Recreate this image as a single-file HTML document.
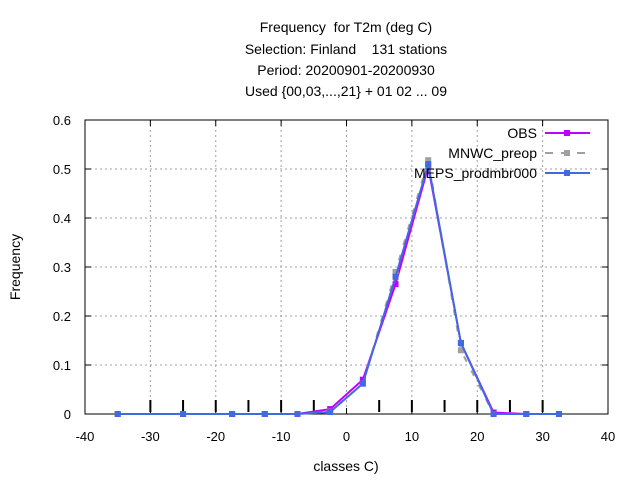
<!DOCTYPE html>
<html><head><meta charset="utf-8"><style>
body{margin:0;background:#fff;}
svg{font-family:"Liberation Sans",sans-serif;}
#title text{white-space:pre;}
</style></head><body>
<svg id="chart" width="640" height="480" xml:space="preserve">
<g id="title" font-size="14" text-anchor="middle" fill="#000"><text x="346" y="32">Frequency  for T2m (deg C)</text><text x="346" y="54">Selection: Finland    131 stations</text><text x="346" y="75">Period: 20200901-20200930</text><text x="346" y="96">Used {00,03,...,21} + 01 02 ... 09</text></g>
<g id="grid"></g><g id="axes"></g><g id="series"></g><g id="legend"></g>
<text x="346" y="471" font-size="14" text-anchor="middle">classes C)</text>
<text x="20" y="267" font-size="14" text-anchor="middle" transform="rotate(-90 20 267)">Frequency</text>
</svg>
<script>
const xCats=[-35,-25,-17.5,-12.5,-7.5,-2.5,2.5,7.5,12.5,17.5,22.5,27.5,32.5];
const obs=[0,0,0,0,0,0.01,0.07,0.265,0.505,0.145,0.003,0,0];
const mnwc=[0,0,0,0,0,0.005,0.062,0.29,0.518,0.13,0,0,0];
const meps=[0,0,0,0,0,0.004,0.062,0.28,0.51,0.145,0,0,0];
const xTicks=[-40,-30,-20,-10,0,10,20,30,40];
const yTicks=[0,0.1,0.2,0.3,0.4,0.5,0.6];
const NS="http://www.w3.org/2000/svg";
const L=85,R=608,T=120,B=414;
const xs=v=>L+(v+40)/80*(R-L);
const ys=v=>B-v/0.6*(B-T);
function mk(p,t,a){const e=document.createElementNS(NS,t);for(const k in a)e.setAttribute(k,a[k]);p.appendChild(e);return e;}
const grid=document.getElementById('grid'),axes=document.getElementById('axes');
xTicks.forEach(v=>{
 if(v>-40&&v<40){const g=mk(grid,'line',{x1:xs(v),x2:xs(v),y1:T,y2:B,stroke:'#a0a0a0','stroke-dasharray':'2,3'});
 }
 const t=mk(axes,'text',{x:xs(v),y:B+27,'font-size':13,'text-anchor':'middle'});t.textContent=v;
 
 mk(axes,'line',{x1:xs(v),x2:xs(v),y1:B,y2:B-6,stroke:'#000'});
 mk(axes,'line',{x1:xs(v),x2:xs(v),y1:T,y2:T+6,stroke:'#000'});
});
for(let v=-30;v<=30;v+=5){if(v===0)continue;
 const m=mk(axes,'line',{x1:xs(v),x2:xs(v),y1:B-14,y2:B-2,stroke:'#000','stroke-width':2});
 }
yTicks.forEach(v=>{
 if(v>0&&v<0.6){const g=mk(grid,'line',{x1:L,x2:R,y1:ys(v),y2:ys(v),stroke:'#a0a0a0','stroke-dasharray':'2,3'});
 }
 const t=mk(axes,'text',{x:L-14,y:ys(v)+5,'font-size':13,'text-anchor':'end'});t.textContent=v;
 
 mk(axes,'line',{x1:L,x2:L+6,y1:ys(v),y2:ys(v),stroke:'#000'});
 mk(axes,'line',{x1:R,x2:R-6,y1:ys(v),y2:ys(v),stroke:'#000'});
});
const fr=mk(axes,'rect',{x:L,y:T,width:R-L,height:B-T,fill:'none',stroke:'#000'});

const ser=document.getElementById('series'),leg=document.getElementById('legend');
const defs=[['OBS',obs,'#c000ff',null,'obs'],['MNWC_preop',mnwc,'#a0a0a0','6,10','mnwc'],['MEPS_prodmbr000',meps,'#4169e1',null,'meps']];
defs.forEach((d,i)=>{
 const pts=xCats.map((x,j)=>xs(x)+','+ys(d[1][j])).join(' ');
 const a={points:pts,fill:'none',stroke:d[2],'stroke-width':2};if(d[3])a['stroke-dasharray']=d[3];
 const pl=mk(ser,'polyline',a);
 
 xCats.forEach((x,j)=>{const r=mk(ser,'rect',{x:xs(x)-3,y:ys(d[1][j])-3,width:6,height:6,fill:d[2]});
  });
 const ly=133+i*20;
 const t=mk(leg,'text',{x:537,y:ly+5,'font-size':14,'text-anchor':'end'});t.textContent=d[0];
 
 const la={x1:545,x2:590,y1:ly,y2:ly,stroke:d[2],'stroke-width':2};if(d[3])la['stroke-dasharray']='8,8';
 const ll=mk(leg,'line',la);
 mk(leg,'rect',{x:564,y:ly-3,width:6,height:6,fill:d[2]});
});
</script>
</body></html>
